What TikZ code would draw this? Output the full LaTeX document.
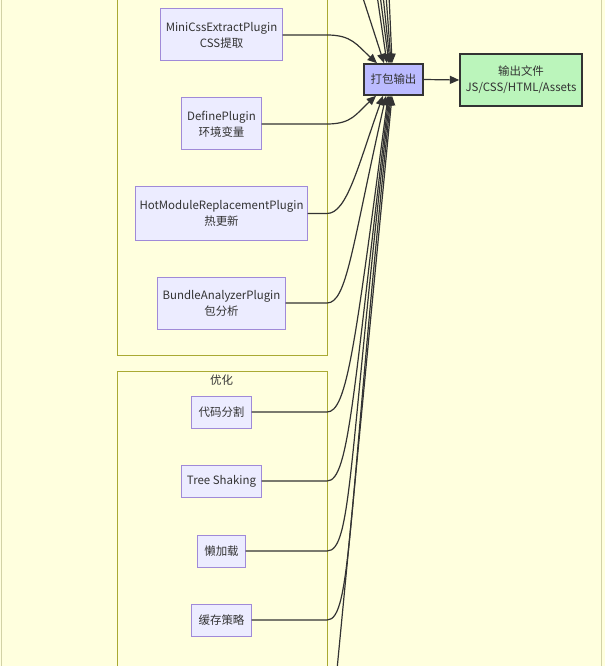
\documentclass[tikz,border=0pt]{standalone}
\usepackage{fontspec}
\setmainfont{Noto Sans CJK SC}
\usetikzlibrary{arrows.meta}
\definecolor{clfill}{HTML}{FFFFDE}
\definecolor{clline}{HTML}{AAAA33}
\definecolor{outline}{HTML}{D2D2A6}
\definecolor{boxfill}{HTML}{ECECFF}
\definecolor{boxline}{HTML}{A08AD8}
\definecolor{packfill}{HTML}{BBBBFF}
\definecolor{outfill}{HTML}{BBF5BB}
\definecolor{ink}{HTML}{333333}

\begin{document}
\begin{tikzpicture}[x=0.75pt, y=-0.75pt, font=\fontsize{8.6}{12}\selectfont, text=ink,
  box/.style={draw=boxline, fill=boxfill, line width=0.75pt, align=center, inner sep=0pt, minimum height=39pt},
  small/.style={box, minimum height=24pt},
  strong/.style={box, draw=ink, line width=1.2pt},
  cluster/.style={draw=clline, fill=clfill, line width=0.75pt},
  edge/.style={draw=ink, line width=0.9pt, -{Triangle[length=7pt,width=6pt]}}]
  \useasboundingbox (0,0) rectangle (605,666);
  \clip (0,0) rectangle (605,666);
  \fill[clfill] (0,0) rectangle (605,666);
  \draw[outline, line width=0.75pt] (1.5,-20) rectangle (601,690);
  \draw[cluster] (117,-20) rectangle (327,355); \draw[cluster] (117,371) rectangle (327,690);
  \node (optlabel) at (221.5,380) {优化};
  \coordinate (cr) at (327,0);
  \node[box, minimum width=90.8pt] (mini) at (221.5,35) {MiniCssExtractPlugin\\CSS提取};
  \node[box, minimum width=59.3pt] (define) at (221.5,124) {DefinePlugin\\环境变量};
  \node[box, minimum width=128.3pt, minimum height=39.8pt] (hmr) at (221.5,213.5) {HotModuleReplacementPlugin\\热更新};
  \node[box, minimum width=95.3pt] (bundle) at (221.5,303) {BundleAnalyzerPlugin\\包分析};
  \node[small, minimum width=44.3pt] (split) at (221.5,412) {代码分割};
  \node[small, minimum width=59.3pt] (tree) at (221.5,481) {Tree Shaking};
  \node[small, minimum width=35.3pt] (lazy) at (221.5,551) {懒加载};
  \node[small, minimum width=44.3pt] (cache) at (221.5,620) {缓存策略};
  \node[strong, fill=packfill, minimum width=44.3pt, minimum height=23.3pt] (pack) at (393.5,79.5) {打包输出};
  \node[strong, fill=outfill, minimum width=91.5pt] (out) at (521,80) {输出文件\\JS/CSS/HTML/Assets};
  \coordinate (top1) at (362,-5); \coordinate (top2) at (377,-5); \coordinate (top3) at (380,-5);
  \coordinate (top4) at (383,-5); \coordinate (top5) at (386,-5); \coordinate (top6) at (389,-5);
  \coordinate (bot1) at (336,680);
  \draw[edge] (top1) -- ([xshift=-7.1pt]pack.north); \draw[edge] (top2) -- ([xshift=-4.9pt]pack.north);
  \draw[edge] (top3) -- ([xshift=-3.4pt]pack.north); \draw[edge] (top4) -- ([xshift=-2.6pt]pack.north);
  \draw[edge] (top5) -- ([xshift=-1.9pt]pack.north); \draw[edge] (top6) -- ([xshift=-1.1pt]pack.north);
  \draw[edge] (mini.east) -- (mini.east -| cr) .. controls +(25,0) and +(-20,-18) .. ([xshift=-12.4pt]pack.north);
  \draw[edge] (define.east) -- (define.east -| cr) .. controls +(25,0) and +(-20,18) .. ([xshift=-13.1pt]pack.south);
  \draw[edge] (hmr.east) -- (hmr.east -| cr) .. controls +(20,0) and +(-25,70) .. ([xshift=-7.9pt]pack.south);
  \draw[edge] (bundle.east) -- (bundle.east -| cr) .. controls +(20,0) and +(-34,150) .. ([xshift=-5.6pt]pack.south);
  \draw[edge] (split.east) -- (split.east -| cr) .. controls +(20,0) and +(-33,250) .. ([xshift=-4.1pt]pack.south);
  \draw[edge] (tree.east) -- (tree.east -| cr) .. controls +(22,0) and +(-36,300) .. ([xshift=-3.4pt]pack.south);
  \draw[edge] (lazy.east) -- (lazy.east -| cr) .. controls +(25,0) and +(-42,365) .. ([xshift=-2.6pt]pack.south);
  \draw[edge] (cache.east) -- (cache.east -| cr) .. controls +(25,0) and +(-44,420) .. ([xshift=-1.9pt]pack.south);
  \draw[edge] (bot1) -- ([xshift=-1.1pt]pack.south);
  \draw[edge] (pack.east) -- (out.west);
\end{tikzpicture}
\end{document}
